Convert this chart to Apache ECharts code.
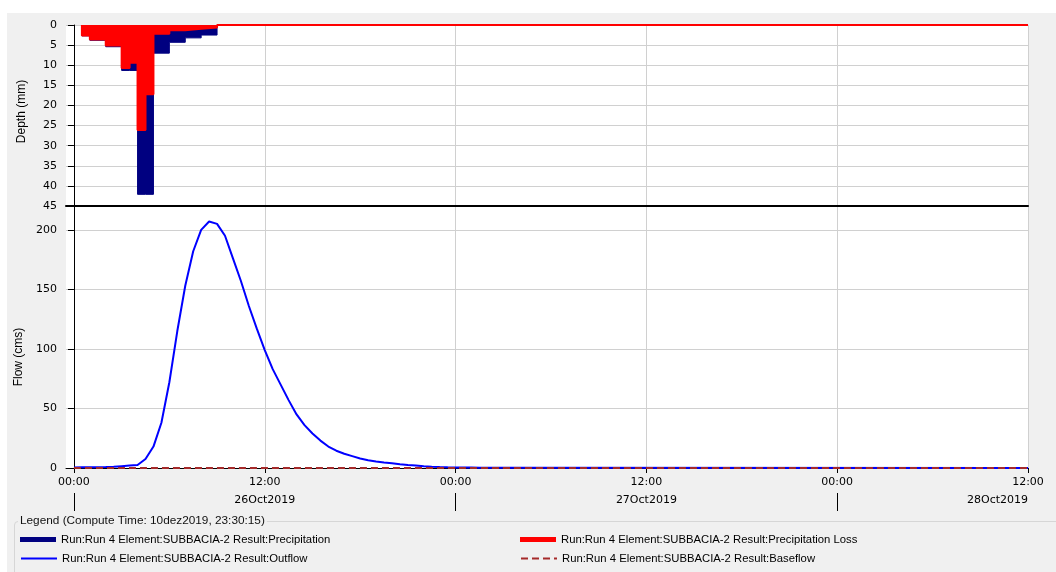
<!DOCTYPE html>
<html>
<head>
<meta charset="utf-8">
<script src="https://cdn.jsdelivr.net/npm/echarts@6/dist/echarts.min.js"></script>
<style>
html, body { margin: 0; padding: 0; background: #fff; }
#wrap { position: relative; width: 1056px; height: 572px; overflow: hidden; }
#panel { position: absolute; left: 7px; top: 13px; right: 0; bottom: 0; background: #f0f0f0; }
#legendBox { position: absolute; left: 14px; top: 521px; width: 1100px; height: 100px;
  border: 1px solid #d6d6d6; border-radius: 4px; }
#chart { position: absolute; left: 0; top: 0; width: 1056px; height: 572px; }
</style>
</head>
<body>
<div id="wrap">
  <div id="panel"></div>
  <div id="legendBox"></div>
  <div id="chart"></div>
</div>
<script>
// hours counted from 26Oct2019 00:00
var hourTicks = [0, 12, 24, 36, 48, 60];
var hourLabels = ['00:00', '12:00', '00:00', '12:00', '00:00', '12:00'];
var dayTicks = [0, 24, 48];
var dateTicks = [12, 36, 60];
var dateLabels = ['26Oct2019', '27Oct2019', '28Oct2019'];

// rain periods (end hour of each period, first entry = start of rain)
var rainHours = [0.5, 1, 2, 3, 3.5, 4, 4.5, 5, 6, 7, 8, 9];
var precipDepth = [0, 2.7, 3.8, 5.4, 11.3, 11.3, 42.1, 42.1, 7.0, 4.3, 3.2, 2.5];
var lossDepth = [0, 2.6, 3.6, 5.1, 10.7, 9.4, 26.1, 17.2, 2.2, 1.3, 0.95, 0.6];

// outflow, every 30 min from 00:00
var flowStep = 0.5;
var outflow = [
  0.5, 0.6, 0.7, 0.7, 0.8, 1.0, 1.5, 2.0, 2.5, 7.5,
  18, 38, 72, 115, 153, 182, 200, 207, 205, 195,
  176, 157, 136, 117, 99, 83, 70, 57, 45, 36,
  29, 23, 18, 14.5, 12, 10, 8, 6.5, 5.5, 4.7,
  4.0, 3.2, 2.5, 2.0, 1.5, 1.1, 0.8, 0.6, 0.5, 0.4,
  0.4, 0.3, 0.3, 0.2, 0.2
];
var baseflowHours = [0, 60];
var baseflow = [0, 0];

var endHour = 60;
var names = {
  precip: 'Run:Run 4 Element:SUBBACIA-2 Result:Precipitation',
  loss: 'Run:Run 4 Element:SUBBACIA-2 Result:Precipitation Loss',
  outflow: 'Run:Run 4 Element:SUBBACIA-2 Result:Outflow',
  baseflow: 'Run:Run 4 Element:SUBBACIA-2 Result:Baseflow'
};

var precipData = rainHours.map(function (h, i) { return [h, precipDepth[i]]; });
precipData.push([rainHours[rainHours.length - 1], 0]);
var lossData = rainHours.map(function (h, i) { return [h, lossDepth[i]]; });
lossData.push([rainHours[rainHours.length - 1], 0], [endHour, 0]);
var flowData = outflow.map(function (v, i) { return [i * flowStep, v]; });
flowData.push([endHour, 0]);
var baseData = baseflowHours.map(function (h, i) { return [h, baseflow[i]]; });

var tickFont = { fontFamily: 'DejaVu Sans', fontSize: 11, color: '#000' };
var gridLine = { show: true, lineStyle: { color: '#d0d0d0', width: 1 } };

function yAxisBase(extra) {
  var a = {
    type: 'value',
    axisLine: { show: true, lineStyle: { color: '#000', width: 1 } },
    axisTick: { show: true, length: 6, lineStyle: { color: '#000' } },
    axisLabel: Object.assign({ margin: 9 }, tickFont),
    splitLine: gridLine,
    nameLocation: 'middle',
    nameGap: 38
  };
  return Object.assign(a, extra);
}

function legendItem(name, left, top, icon, color) {
  var d = { name: name };
  if (icon) {
    d.icon = icon;
    d.itemStyle = { color: color };
  } else {
    d.itemStyle = { opacity: 0 };
  }
  return {
    data: [d], left: left, top: top, padding: 0,
    itemWidth: 36, itemHeight: 5, selectedMode: false,
    textStyle: { fontFamily: 'Liberation Sans', fontSize: 11.3, color: '#000' }
  };
}

var myChart = echarts.init(document.getElementById('chart'));

var option = {
  animation: false,
  title: {
    text: 'Legend (Compute Time: 10dez2019, 23:30:15)',
    left: 18, top: 514, padding: [1, 2],
    backgroundColor: '#f0f0f0',
    textStyle: { fontFamily: 'Liberation Sans', fontSize: 11.8, fontWeight: 'normal', color: '#111' }
  },
  legend: [
    legendItem(names.precip, 20, 534, 'rect', '#000080'),
    legendItem(names.loss, 520, 534, 'rect', '#ff0000'),
    legendItem(names.outflow, 20, 553),
    legendItem(names.baseflow, 520, 553)
  ],
  grid: [
    { left: 66, right: 28, top: 25, height: 181, show: true, backgroundColor: '#fff', borderWidth: 0, outerBoundsMode: 'none' },
    { left: 66, right: 28, top: 206, height: 262, show: true, backgroundColor: '#fff', borderWidth: 0, outerBoundsMode: 'none' }
  ],
  xAxis: [
    {
      gridIndex: 0, type: 'value', min: -0.5, max: endHour, position: 'bottom',
      axisLine: { onZero: false, lineStyle: { color: '#000', width: 2 } },
      axisTick: { show: false, customValues: hourTicks },
      axisLabel: { show: false, customValues: hourTicks },
      splitLine: gridLine
    },
    {
      gridIndex: 1, type: 'value', min: -0.5, max: endHour, position: 'bottom',
      axisLine: { onZero: false, lineStyle: { color: '#000', width: 1 } },
      axisTick: { show: true, length: 5, customValues: hourTicks, lineStyle: { color: '#000' } },
      axisLabel: Object.assign({
        customValues: hourTicks, margin: 9,
        formatter: function (v) { return hourLabels[hourTicks.indexOf(v)]; }
      }, tickFont),
      splitLine: gridLine
    },
    {
      gridIndex: 1, type: 'value', min: -0.5, max: endHour, position: 'bottom', offset: 25,
      axisLine: { show: false, onZero: false },
      axisTick: { show: true, length: 18, customValues: dayTicks, lineStyle: { color: '#000' } },
      axisLabel: Object.assign({
        customValues: dateTicks, margin: 2, alignMaxLabel: 'right',
        formatter: function (v) { return dateLabels[dateTicks.indexOf(v)]; }
      }, tickFont),
      splitLine: { show: false }
    }
  ],
  yAxis: [
    yAxisBase({ gridIndex: 0, inverse: true, min: 0, max: 45, interval: 5, name: 'Depth (mm)',
      nameTextStyle: { fontFamily: 'Liberation Sans', fontSize: 12, color: '#000', padding: [0, 0, 0, 8] } }),
    yAxisBase({ gridIndex: 1, min: 0, max: 220, interval: 50, name: 'Flow (cms)',
      nameTextStyle: { fontFamily: 'Liberation Sans', fontSize: 12, color: '#000', padding: [0, 40, 0, 0] },
      axisLabel: Object.assign({ margin: 9, showMaxLabel: false }, tickFont) })
  ],
  series: [
    {
      name: names.precip, type: 'line', xAxisIndex: 0, yAxisIndex: 0,
      step: 'start', symbol: 'none', data: precipData,
      lineStyle: { color: '#000080', width: 1 }, itemStyle: { color: '#000080' },
      areaStyle: { color: '#000080', opacity: 1 }, z: 2
    },
    {
      name: names.loss, type: 'line', xAxisIndex: 0, yAxisIndex: 0,
      step: 'start', symbol: 'none', data: lossData,
      lineStyle: { color: '#ff0000', width: 2 }, itemStyle: { color: '#ff0000' },
      areaStyle: { color: '#ff0000', opacity: 1 }, z: 3
    },
    {
      name: names.outflow, type: 'line', xAxisIndex: 1, yAxisIndex: 1,
      symbol: 'none', data: flowData,
      lineStyle: { color: '#0000ff', width: 2 }, itemStyle: { color: '#0000ff' }, z: 3
    },
    {
      name: names.baseflow, type: 'line', xAxisIndex: 1, yAxisIndex: 1,
      symbol: 'none', data: baseData,
      lineStyle: { color: '#a52a2a', width: 2, type: [7, 4] }, itemStyle: { color: '#a52a2a' }, z: 4
    }
  ]
};

myChart.setOption(option);
</script>
</body>
</html>
